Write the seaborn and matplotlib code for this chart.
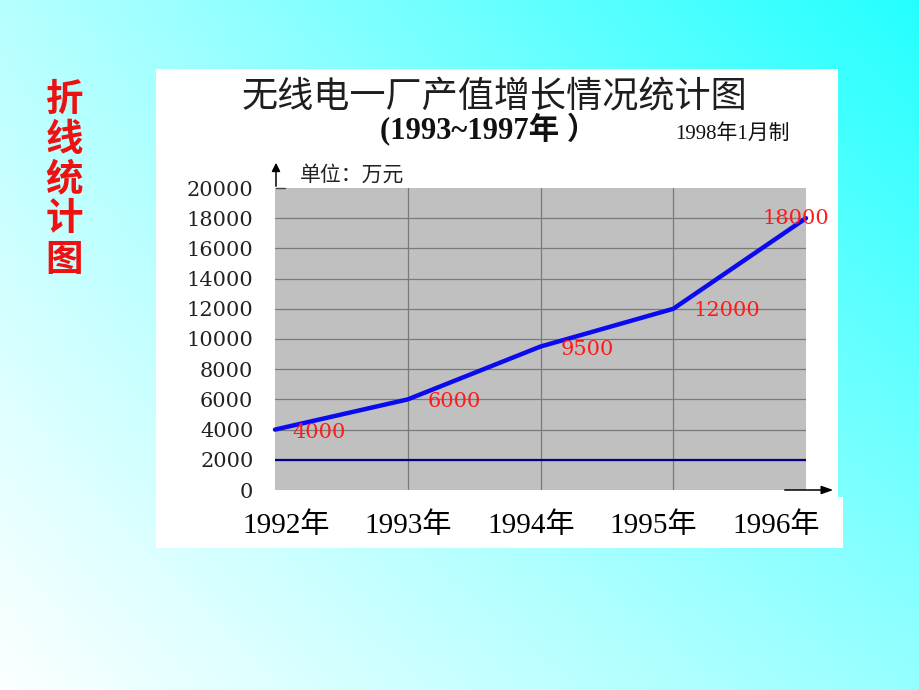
import numpy as np
import pandas as pd
import matplotlib
matplotlib.use("Agg")
import matplotlib.pyplot as plt
import seaborn as sns
from matplotlib.patches import Rectangle

# ---- data ----
years = [1992, 1993, 1994, 1995, 1996]
values = [4000, 6000, 9500, 12000, 18000]
year_labels = ["1992年", "1993年", "1994年", "1995年", "1996年"]
y_ticks = [0, 2000, 4000, 6000, 8000, 10000, 12000, 14000, 16000, 18000, 20000]
baseline_value = 2000

title = "无线电一厂产值增长情况统计图"
subtitle = "(1993~1997年 ）"
made_note = "1998年1月制"
unit_note = "单位：万元"
side_title = "折线统计图"

df = pd.DataFrame({"year": years, "value": values})

sns.set_theme(style="white")
plt.rcParams["font.family"] = ["Noto Sans CJK SC", "DejaVu Sans"]

W, H = 920, 690
fig = plt.figure(figsize=(W / 100, H / 100), dpi=100)


def fx(px):
    return px / W


def fy(py):
    return 1 - py / H


# ---- gradient background ----
bg = fig.add_axes([0, 0, 1, 1], zorder=-10)
u = np.linspace(0, 1, 200)[None, :]
v = np.linspace(0, 1, 200)[:, None]
tl, tr, bl, br = 182, 35, 252, 150
R = tl * (1 - u) * (1 - v) + tr * u * (1 - v) + bl * (1 - u) * v + br * u * v
img = np.zeros((200, 200, 3))
img[..., 0] = R / 255
img[..., 1] = 1.0
img[..., 2] = 1.0
bg.imshow(img, aspect="auto", extent=[0, 1, 0, 1], origin="upper")
bg.set_axis_off()

# white panel
fig.patches.append(Rectangle((fx(156), fy(548)), fx(838) - fx(156), fy(69) - fy(548),
                             transform=fig.transFigure, facecolor="white",
                             edgecolor="none", zorder=-5))
fig.patches.append(Rectangle((fx(836), fy(548)), fx(843) - fx(836), fy(497) - fy(548),
                             transform=fig.transFigure, facecolor="white",
                             edgecolor="none", zorder=-5))

# ---- main axes ----
L, Rr, T, B = 275, 806, 188, 490
ax = fig.add_axes([fx(L), fy(B), fx(Rr) - fx(L), fy(T) - fy(B)])
ax.set_facecolor("#C0C0C0")
for s in ax.spines.values():
    s.set_visible(False)

ax.set_xlim(years[0], years[-1])
ax.set_ylim(y_ticks[0], y_ticks[-1])

# grid
for yv in y_ticks[1:-1]:
    ax.axhline(yv, color="#7a7a7a", lw=0.9, zorder=1)
for xv in years[1:-1]:
    ax.axvline(xv, color="#7a7a7a", lw=0.9, zorder=1)

ax.axhline(baseline_value, color="#000080", lw=1.6, zorder=2)

sns.lineplot(data=df, x="year", y="value", ax=ax, color="#0a0af0", lw=3.2,
             zorder=3, clip_on=False)

# data labels
offsets = [(17, -3), (20, -2), (20, -3), (20, -2), (-44, 0)]
for xv, yv, (dx, dy) in zip(years, values, offsets):
    ax.annotate(f"{yv}", (xv, yv), xytext=(dx, dy), textcoords="offset pixels",
                ha="left", va="center", color="#ff1a1a", fontsize=15,
                family="DejaVu Serif", zorder=4, annotation_clip=False)

# y ticks
ax.set_yticks(y_ticks)
ax.set_yticklabels([str(t) for t in y_ticks], family="DejaVu Serif", fontsize=15,
                   color="#222222")
ax.tick_params(axis="y", length=0, pad=15.5)

# x ticks (labels spaced as in the reference)
label_pos = [years[0] + 0.083 + 0.923 * i for i in range(len(years))]
ax.set_xticks(label_pos)
ax.set_xticklabels(year_labels, family=["Liberation Serif", "Noto Sans CJK SC"],
                   fontsize=21, color="black")
ax.tick_params(axis="x", length=0, pad=16)
ax.set_xlabel("")
ax.set_ylabel("")

# axis arrows
fig.add_artist(matplotlib.patches.FancyArrowPatch(
    (fx(276), fy(189)), (fx(276), fy(160)), transform=fig.transFigure,
    arrowstyle="-|>,head_length=5,head_width=2.5", color="black", lw=1.1,
    mutation_scale=1))
fig.add_artist(matplotlib.lines.Line2D([fx(276), fx(285)], [fy(188), fy(188)],
                                       transform=fig.transFigure, color="#444444", lw=1))
fig.add_artist(matplotlib.patches.FancyArrowPatch(
    (fx(782), fy(490)), (fx(836), fy(490)), transform=fig.transFigure,
    arrowstyle="-|>,head_length=7,head_width=2.5", color="black", lw=1.1,
    mutation_scale=1))

# texts
fig.text(fx(494), fy(97), title, ha="center", va="center", fontsize=26,
         color="#1e1e1e")
fig.text(fx(489), fy(130), subtitle, ha="center", va="center", fontsize=22,
         fontweight="bold", family=["Liberation Serif", "Noto Sans CJK SC"], color="#111111")
fig.text(fx(732), fy(134), made_note, ha="center", va="center", fontsize=15,
         family=["Liberation Serif", "Noto Sans CJK SC"], color="#111111")
fig.text(fx(300), fy(175), unit_note, ha="left", va="center", fontsize=15,
         color="#222222")

# side vertical title
for i, ch in enumerate(side_title):
    fig.text(fx(64), fy(99 + 40 * i), ch, ha="center", va="center", fontsize=27,
             color="#ee1111", fontweight="bold")

fig.savefig("out.png", dpi=100)
